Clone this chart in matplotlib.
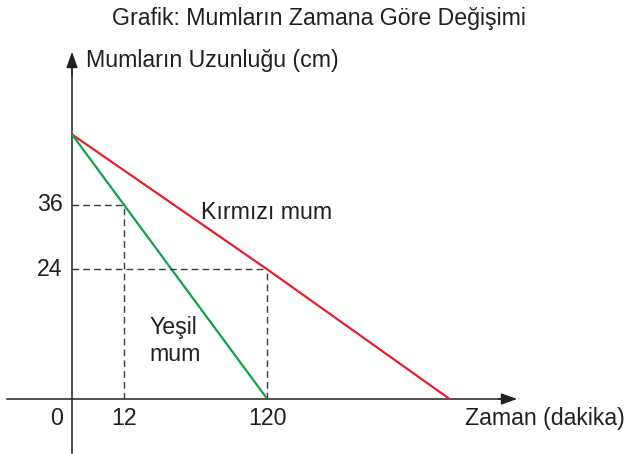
import matplotlib
matplotlib.use("Agg")
import matplotlib.pyplot as plt
import numpy as np

# data (time in minutes, length in cm)
red_time = [0, 120, 232]
red_len = [49, 24, 0]
green_time = [0, 120]
green_len = [49, 0]
guide_levels = [36, 24]
y_tick_labels = ["36", "24"]
x_tick_labels = ["0", "12", "120"]

RED = "#e4202a"
GREEN = "#13a04a"
TEXT = "#231f20"
FONT = "Liberation Sans"
FS = 16.7

W, H = 628, 454
fig = plt.figure(figsize=(W / 100, H / 100), dpi=100, facecolor="white")
ax = fig.add_axes([0, 0, 1, 1])
ax.set_xlim(-44.24, 341.6)
ax.set_ylim(-10.19, 73.9)
ax.axis("off")

# axes with arrows
ax.plot([-40, 268], [0, 0], color=TEXT, lw=1.1)
ax.annotate("", xy=(273.5, 0), xytext=(262, 0),
            arrowprops=dict(arrowstyle="-|>,head_length=0.7,head_width=0.25",
                            color=TEXT, lw=1.0, mutation_scale=14,
                            shrinkA=0, shrinkB=0))
ax.plot([0, 0], [-10, 62], color=TEXT, lw=1.1)
ax.annotate("", xy=(0, 64.3), xytext=(0, 60),
            arrowprops=dict(arrowstyle="-|>,head_length=0.7,head_width=0.25",
                            color=TEXT, lw=1.0, mutation_scale=14,
                            shrinkA=0, shrinkB=0))

# candle lines
ax.plot(red_time, red_len, color=RED, lw=1.6, solid_capstyle="butt")
ax.plot(green_time, green_len, color=GREEN, lw=1.6, solid_capstyle="butt")

# dashed guides: 36 on the green line, 24 on the red line
t36 = np.interp(guide_levels[0], green_len[::-1], green_time[::-1])
t24 = np.interp(guide_levels[1], red_len[::-1], red_time[::-1])
for t, lvl in [(t36, guide_levels[0]), (t24, guide_levels[1])]:
    ax.plot([0, t], [lvl, lvl], color="#3a3a3a", lw=1.0, ls=(0, (4.8, 3)))
    ax.plot([t, t], [0, lvl], color="#3a3a3a", lw=1.0, ls=(0, (4.8, 3)))

# tick labels
for lvl, lab in zip(guide_levels, y_tick_labels):
    ax.text(-5.8, lvl, lab, ha="right", va="center", fontsize=FS,
            color=TEXT, family=FONT)
for t, lab in zip([-9.3, t36, green_time[-1]], x_tick_labels):
    ax.text(t, -3.7, lab, ha="center", va="center", fontsize=FS,
            color=TEXT, family=FONT)

# titles and labels
fig.text(526 / W, 1 - 19 / H, "Grafik: Mumların Zamana Göre Değişimi",
         ha="right", va="center", fontsize=FS, color=TEXT, family=FONT)
fig.text(86 / W, 1 - 61 / H, "Mumların Uzunluğu (cm)",
         ha="left", va="center", fontsize=FS, color=TEXT, family=FONT)
fig.text(465 / W, 1 - 419 / H, "Zaman (dakika)",
         ha="left", va="center", fontsize=FS, color=TEXT, family=FONT)
fig.text(201 / W, 1 - 212 / H, "Kırmızı mum",
         ha="left", va="center", fontsize=FS, color=TEXT, family=FONT)
fig.text(149 / W, 1 - 341 / H, "Yeşil\nmum", linespacing=1.25,
         ha="left", va="center", fontsize=FS, color=TEXT, family=FONT)

fig.savefig("out.png", dpi=100, facecolor="white")
